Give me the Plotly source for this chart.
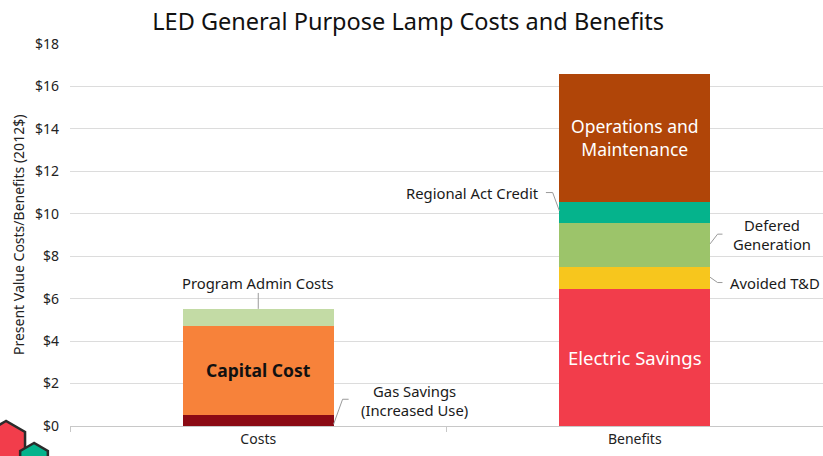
import math
import plotly.graph_objects as go

# ---- data -------------------------------------------------------------
categories = ["Costs", "Benefits"]

cost_series = ["Gas Savings (Increased Use)", "Capital Cost", "Program Admin Costs"]
cost_values = [0.52, 4.20, 0.80]
cost_colors = ["#8B0A14", "#F7823A", "#C3DBA5"]

benefit_series = ["Electric Savings", "Avoided T&D", "Defered Generation",
                  "Regional Act Credit", "Operations and Maintenance"]
benefit_values = [6.46, 1.01, 2.11, 0.99, 6.04]
benefit_colors = ["#F23D4B", "#F7C61D", "#9CC46A", "#05B38C", "#B04508"]

y_tick_values = [0, 2, 4, 6, 8, 10, 12, 14, 16, 18]
y_tick_labels = ["$0", "$2", "$4", "$6", "$8", "$10", "$12", "$14", "$16", "$18"]

FONT = "Noto Sans"
BAR_W = 0.4

fig = go.Figure()

for name, val, col in zip(cost_series, cost_values, cost_colors):
    fig.add_trace(go.Bar(x=categories, y=[val, 0], name=name, marker_color=col,
                         marker_line_width=0, width=BAR_W, hoverinfo="name+y"))
for name, val, col in zip(benefit_series, benefit_values, benefit_colors):
    fig.add_trace(go.Bar(x=categories, y=[0, val], name=name, marker_color=col,
                         marker_line_width=0, width=BAR_W, hoverinfo="name+y"))

# cumulative segment bounds
def bounds(values):
    out, base = [], 0.0
    for v in values:
        out.append((base, base + v))
        base += v
    return out

cb = bounds(cost_values)
bb = bounds(benefit_values)

annotations = []
shapes = []
label_font = dict(family=FONT, size=14.8, color="#1a1a1a")
LINE = dict(color="#9a9a9a", width=1)

# labels inside the bars
annotations.append(dict(x=0, y=(cb[1][0] + cb[1][1]) / 2, text="<b>Capital Cost</b>",
                        showarrow=False, font=dict(family=FONT, size=17.5, color="#111111")))
annotations.append(dict(x=1, y=(bb[0][0] + bb[0][1]) / 2, text="Electric Savings",
                        showarrow=False, font=dict(family=FONT, size=18.5, color="white")))
annotations.append(dict(x=1, y=(bb[4][0] + bb[4][1]) / 2, text="Operations and<br>Maintenance",
                        showarrow=False, font=dict(family=FONT, size=17.5, color="white")))

# callout labels with leader lines
edge_l, edge_r = 0.5 * BAR_W, 1 + 0.5 * BAR_W

# Program Admin Costs
admin_top = cb[2][1]
annotations.append(dict(x=0, y=6.76, text="Program Admin Costs", showarrow=False,
                        font=label_font))
shapes.append(dict(type="line", xref="x", yref="y", x0=0, x1=0,
                   y0=admin_top, y1=6.27, line=LINE))

# Gas Savings
annotations.append(dict(x=0.415, y=1.21, text="Gas Savings<br>(Increased Use)",
                        showarrow=False, font=label_font))
shapes.append(dict(type="path", xref="x", yref="y",
                   path=f"M {edge_l} {cb[0][1] * 0.15} L 0.224 1.26 L 0.24 1.26",
                   line=LINE))

# Regional Act Credit
annotations.append(dict(x=0.751, y=11.0, text="Regional Act Credit", showarrow=False,
                        xanchor="right", font=label_font))
shapes.append(dict(type="path", xref="x", yref="y",
                   path=f"M 0.764 11.0 L 0.782 11.0 L {1 - 0.5 * BAR_W} {bb[3][0] + 0.55}",
                   line=LINE))

# Defered Generation
annotations.append(dict(x=1.365, y=9.03, text="Defered<br>Generation", showarrow=False,
                        font=label_font))
shapes.append(dict(type="path", xref="x", yref="y",
                   path=f"M {edge_r} 8.58 L 1.22 9.04 L 1.233 9.04", line=LINE))

# Avoided T&D
annotations.append(dict(x=1.248, y=6.76, text="Avoided T&D", showarrow=False,
                        xanchor="left", font=label_font))
shapes.append(dict(type="path", xref="x", yref="y",
                   path=f"M {edge_r} 7.01 L 1.22 6.76 L 1.233 6.76", line=LINE))

# y-axis title
annotations.append(dict(xref="paper", yref="paper", x=-0.069, y=0.5,
                        text="Present Value Costs/Benefits (2012$)", textangle=-90,
                        showarrow=False, xanchor="center", yanchor="middle",
                        font=dict(family=FONT, size=14, color="#222222")))

# corner emblem (hexagons), placed in pixel space
PL, PR, PT, PB = 70, 823, 44, 426
def px(x):
    return (x - PL) / (PR - PL)
def py(y):
    return (PB - y) / (PB - PT)

def hexagon(cx, cy, r):
    pts = []
    for k in range(6):
        a = math.radians(90 + 60 * k)
        pts.append((px(cx + r * math.cos(a)), py(cy - r * math.sin(a))))
    return "M " + " L ".join(f"{a:.4f} {b:.4f}" for a, b in pts) + " Z"

shapes.append(dict(type="path", xref="paper", yref="paper", path=hexagon(20, 468, 14),
                   fillcolor="#2E9BD6", line=dict(color="#2b2b2b", width=2), layer="above"))
shapes.append(dict(type="path", xref="paper", yref="paper", path=hexagon(6, 443, 22),
                   fillcolor="#F23D4B", line=dict(color="#2b2b2b", width=2.5), layer="above"))
shapes.append(dict(type="path", xref="paper", yref="paper", path=hexagon(34, 459, 16),
                   fillcolor="#05B38C", line=dict(color="#2b2b2b", width=2.5), layer="above"))

fig.update_layout(
    width=823, height=456,
    margin=dict(l=70, r=0, t=44, b=30),
    paper_bgcolor="white", plot_bgcolor="white",
    barmode="stack", showlegend=False,
    title=dict(text="LED General Purpose Lamp Costs and Benefits", x=0.496,
               xanchor="center", y=0.952, yanchor="middle",
               font=dict(family=FONT, size=23.5, color="#111111")),
    annotations=annotations, shapes=shapes,
    font=dict(family=FONT),
)
fig.update_layout(title_xref="container")

fig.update_xaxes(type="category", range=[-0.5, 1.5], showgrid=False,
                 showline=True, linecolor="#c8c8c8", linewidth=1,
                 ticks="outside", tickson="boundaries", ticklen=5, tickcolor="#c8c8c8",
                 tickfont=dict(family=FONT, size=14, color="#222222"))
fig.update_yaxes(range=[0, 18], tickvals=y_tick_values, ticktext=y_tick_labels,
                 showgrid=True, gridcolor="#dcdcdc", gridwidth=1, zeroline=False,
                 showline=False, ticks="", ticklabelstandoff=10,
                 tickfont=dict(family=FONT, size=14, color="#222222"))

fig.write_html("out.html")
